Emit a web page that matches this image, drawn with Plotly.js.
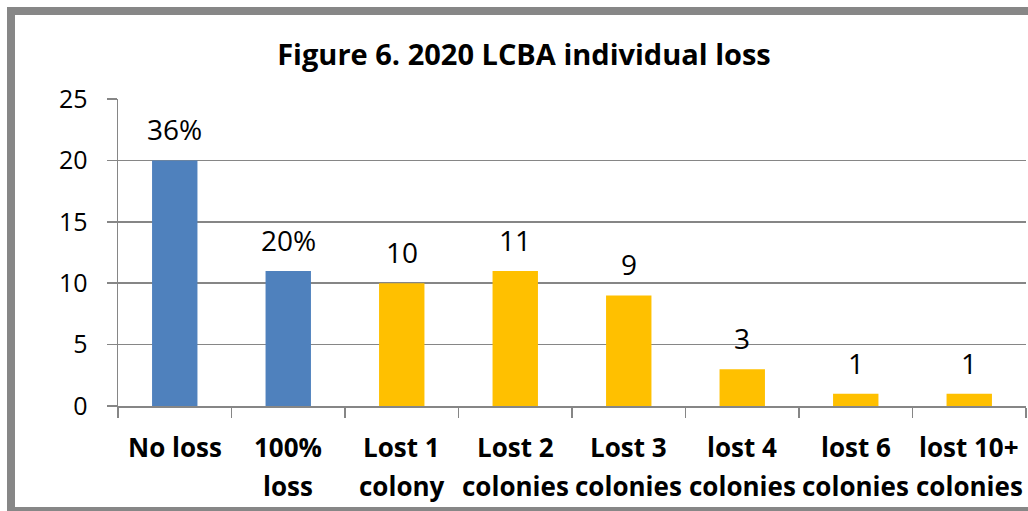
<!DOCTYPE html>
<html>
<head>
<meta charset="utf-8">
<script src="https://cdn.plot.ly/plotly-3.0.1.min.js"></script>
<style>
html,body{margin:0;padding:0;background:#fff;overflow:hidden;}
#wrap{position:relative;width:1028px;height:511px;overflow:hidden;}
#chart{width:1028px;height:511px;}
#frame{position:absolute;left:7px;top:7px;width:1100px;height:492px;border:8px solid #878787;border-right:none;pointer-events:none;box-sizing:content-box;}
</style>
</head>
<body>
<div id="wrap">
<div id="chart"></div>
<div id="frame"></div>
</div>
<script>
var catLine1 = ["No loss", "100%", "Lost 1", "Lost 2", "Lost 3", "lost 4", "lost 6", "lost 10+"];
var catLine2 = ["", "loss", "colony", "colonies", "colonies", "colonies", "colonies", "colonies"];
var values = [20, 11, 10, 11, 9, 3, 1, 1];
var labels = ["36%", "20%", "10", "11", "9", "3", "1", "1"];
var barColors = ["#4F81BD", "#4F81BD", "#FFC000", "#FFC000", "#FFC000", "#FFC000", "#FFC000", "#FFC000"];
var yTicks = [0, 5, 10, 15, 20, 25];

var categories = catLine1.map(function(a, i){ return (a + " " + catLine2[i]).trim(); });

var W = 1028, H = 511;
var margin = {l: 118, r: 2, t: 99, b: 105};
var FONT = 'Open Sans, sans-serif';

var annotations = [];
categories.forEach(function(c, i){
  annotations.push({x: c, y: values[i], xref: 'x', yref: 'y', text: labels[i], showarrow: false,
    yanchor: 'bottom', yshift: 10, font: {family: FONT, size: 28, color: '#000'}});
  annotations.push({x: c, y: 0, xref: 'x', yref: 'paper', text: '<b>' + catLine1[i] + '</b>', showarrow: false,
    yanchor: 'middle', yshift: -41, font: {family: FONT, size: 26, color: '#000'}});
  if (catLine2[i]) {
    annotations.push({x: c, y: 0, xref: 'x', yref: 'paper', text: '<b>' + catLine2[i] + '</b>', showarrow: false,
      yanchor: 'middle', yshift: -80, font: {family: FONT, size: 26, color: '#000'}});
  }
});

var trace = {
  type: 'bar', x: categories, y: values,
  marker: {color: barColors, line: {width: 0}},
  width: 0.4, hoverinfo: 'none'
};

var layout = {
  width: W, height: H, margin: margin,
  paper_bgcolor: '#fff', plot_bgcolor: '#fff',
  showlegend: false,
  title: {text: '<b>Figure 6. 2020 LCBA individual loss</b>', x: 524 / W, xref: 'container', xanchor: 'center',
    y: 1 - 55 / H, yref: 'container', yanchor: 'middle',
    font: {family: FONT, size: 29, color: '#000'}},
  xaxis: {
    type: 'category', tickson: 'boundaries', ticks: 'outside', ticklen: 10, tickwidth: 1.5, tickcolor: '#868686',
    showline: true, linecolor: '#868686', linewidth: 1.5, showgrid: false,
    showticklabels: false, fixedrange: true
  },
  yaxis: {
    range: [0, 25], tickvals: yTicks, ticks: 'outside', ticklen: 10, tickwidth: 1.5, tickcolor: '#868686',
    showline: true, linecolor: '#868686', linewidth: 1.5,
    showgrid: true, gridcolor: '#868686', gridwidth: 1.5, zeroline: false,
    tickfont: {family: FONT, size: 25, color: '#000'},
    ticklabelstandoff: 14, fixedrange: true
  },
  annotations: annotations
};

Plotly.newPlot('chart', [trace], layout, {displayModeBar: false, staticPlot: true});
</script>
</body>
</html>
